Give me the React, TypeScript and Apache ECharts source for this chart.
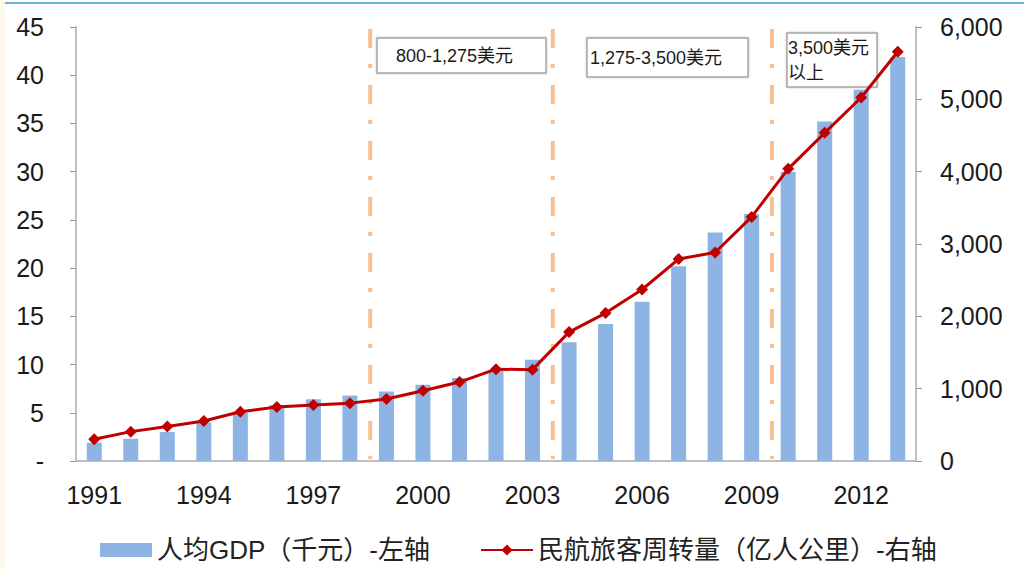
import React, { useEffect, useRef } from "react";
import * as echarts from "echarts";

// Years on the category axis
const years: string[] = [
  "1991", "1992", "1993", "1994", "1995", "1996", "1997", "1998", "1999", "2000",
  "2001", "2002", "2003", "2004", "2005", "2006", "2007", "2008", "2009", "2010",
  "2011", "2012", "2013",
];

// 人均GDP（千元）
const gdpPerCapita: number[] = [
  1.9, 2.3, 3.0, 4.0, 5.0, 5.8, 6.4, 6.8, 7.2, 7.9,
  8.6, 9.4, 10.5, 12.3, 14.2, 16.5, 20.2, 23.7, 25.6, 30.0,
  35.2, 38.5, 41.9,
];

// 民航旅客周转量（亿人公里）
const passengerKm: number[] = [
  301, 406, 478, 552, 681, 748, 774, 800, 857, 971,
  1091, 1269, 1263, 1782, 2045, 2371, 2792, 2883, 3375, 4039,
  4537, 5026, 5657,
];

// Stage boundaries, counted in categories from the left edge of the axis
const stageBoundaries: number[] = [8, 13, 19];

const stageLabels: string[] = ["800-1,275美元", "1,275-3,500美元", "3,500美元\n以上"];

const seriesNames: string[] = ["人均GDP（千元）-左轴", "民航旅客周转量（亿人公里）-右轴"];

const FONT = "'Liberation Sans', 'Noto Sans CJK SC', sans-serif";

export default function App() {
  const ref = useRef<HTMLDivElement>(null);

  useEffect(() => {
    document.body.style.margin = "0";
    if (!ref.current) return;
    const chart = echarts.init(ref.current, undefined, { renderer: "svg" });

    const boxStyle = {
      fill: "#ffffff",
      stroke: "#a6a6a6",
      lineWidth: 1.5,
      shadowBlur: 2,
      shadowColor: "rgba(0,0,0,0.25)",
    };
    const boxText = {
      fill: "#1a1a1a",
      font: `18px ${FONT}`,
      textVerticalAlign: "middle",
    };

    chart.setOption({
      animation: false,
      backgroundColor: "#ffffff",
      textStyle: { fontFamily: FONT },
      grid: { left: 76, right: 108, top: 27, bottom: 107, containLabel: false },
      legend: {
        left: 95,
        top: 532,
        itemWidth: 52,
        itemHeight: 14,
        itemGap: 50,
        textStyle: { fontSize: 26, color: "#222", fontFamily: FONT },
        data: [
          { name: seriesNames[0], icon: "rect" },
          { name: seriesNames[1] },
        ],
      },
      xAxis: [
        {
          type: "category",
          data: years,
          axisLine: { lineStyle: { color: "#bfbfbf", width: 2 } },
          axisTick: { interval: 0, length: 6, lineStyle: { color: "#999" } },
          axisLabel: {
            interval: 2,
            fontSize: 25,
            color: "#1a1a1a",
            margin: 21,
            fontFamily: FONT,
          },
        },
        {
          type: "value",
          min: 0,
          max: years.length,
          show: false,
        },
      ],
      yAxis: [
        {
          type: "value",
          min: 0,
          max: 45,
          interval: 5,
          position: "left",
          axisLine: { show: true, lineStyle: { color: "#bfbfbf", width: 2 } },
          axisTick: { show: true, length: 6, lineStyle: { color: "#999" } },
          splitLine: { show: false },
          axisLabel: {
            fontSize: 25,
            color: "#1a1a1a",
            margin: 32,
            fontFamily: FONT,
            formatter: (v: number) => (v === 0 ? "-" : String(v)),
          },
        },
        {
          type: "value",
          min: 0,
          max: 6000,
          interval: 1000,
          position: "right",
          axisLine: { show: true, lineStyle: { color: "#bfbfbf", width: 2 } },
          axisTick: { show: true, length: 6, lineStyle: { color: "#999" } },
          splitLine: { show: false },
          axisLabel: {
            fontSize: 25,
            color: "#1a1a1a",
            margin: 24,
            fontFamily: FONT,
            formatter: (v: number) => v.toLocaleString("en-US"),
          },
        },
      ],
      series: [
        {
          name: seriesNames[0],
          type: "bar",
          xAxisIndex: 0,
          yAxisIndex: 0,
          data: gdpPerCapita,
          barWidth: 15,
          itemStyle: { color: "#8db4e2" },
          z: 2,
        },
        {
          name: "stages",
          type: "custom",
          xAxisIndex: 1,
          yAxisIndex: 0,
          data: stageBoundaries.map((b) => [b]),
          silent: true,
          z: 3,
          renderItem: (params: any, api: any) => {
            const x = api.value(0);
            const top = api.coord([x, 45]);
            const bottom = api.coord([x, 0]);
            return {
              type: "line",
              shape: { x1: top[0] + 2, y1: top[1] + 2, x2: bottom[0] + 2, y2: bottom[1] - 2 },
              style: {
                stroke: "#fabf8f",
                lineWidth: 4,
                lineDash: [19, 16, 4, 17],
              },
            };
          },
        },
        {
          name: seriesNames[1],
          type: "line",
          xAxisIndex: 0,
          yAxisIndex: 1,
          data: passengerKm,
          symbol: "diamond",
          symbolSize: 12,
          lineStyle: { color: "#c00000", width: 3 },
          itemStyle: { color: "#c00000" },
          z: 4,
        },
      ],
      graphic: [
        // page edge and top rule
        { type: "rect", shape: { x: 0, y: 0, width: 5, height: 568 }, style: { fill: "#fff8ec" }, z: 1 },
        { type: "line", shape: { x1: 5, y1: 3, x2: 1024, y2: 3 }, style: { stroke: "#3399d6", lineWidth: 1.5 }, z: 1 },
        // stage annotation boxes
        {
          type: "group",
          z: 10,
          children: [
            { type: "rect", shape: { x: 377, y: 38, width: 169, height: 35 }, style: boxStyle },
            { type: "text", x: 396, y: 56, style: { ...boxText, text: stageLabels[0] } },
          ],
        },
        {
          type: "group",
          z: 10,
          children: [
            { type: "rect", shape: { x: 587, y: 38, width: 161, height: 39 }, style: boxStyle },
            { type: "text", x: 590, y: 58, style: { ...boxText, text: stageLabels[1] } },
          ],
        },
        {
          type: "group",
          z: 10,
          children: [
            { type: "rect", shape: { x: 787, y: 33, width: 90, height: 54 }, style: boxStyle },
            {
              type: "text",
              x: 788,
              y: 60,
              style: { ...boxText, text: stageLabels[2], lineHeight: 25 },
            },
          ],
        },
      ],
    });

    return () => chart.dispose();
  }, []);

  return <div ref={ref} style={{ width: 1024, height: 568 }} />;
}
